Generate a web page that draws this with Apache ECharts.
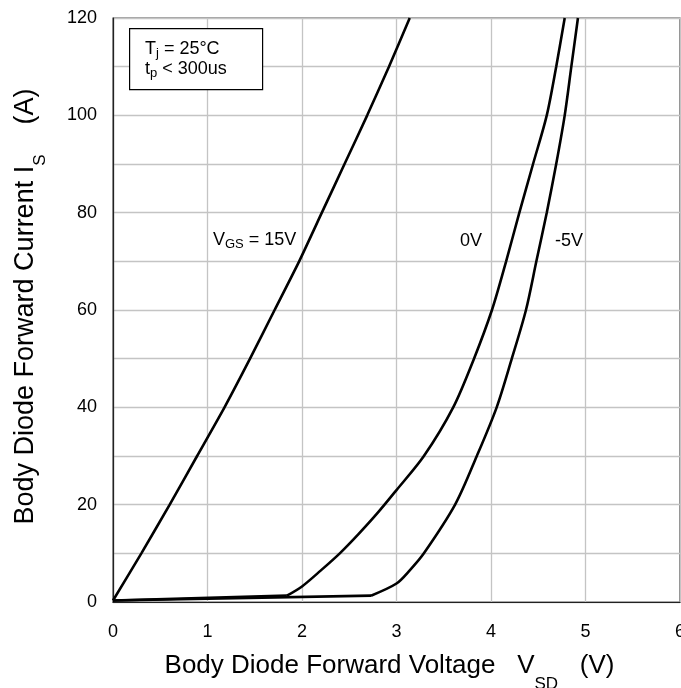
<!DOCTYPE html>
<html>
<head>
<meta charset="utf-8">
<script src="https://cdn.jsdelivr.net/npm/echarts@6/dist/echarts.min.js"></script>
<style>html,body{margin:0;padding:0;background:#fff}#c{width:681px;height:688px}</style>
</head>
<body>
<div id="c"></div>
<script>
// Data
const xTicks = [0, 1, 2, 3, 4, 5, 6];
const yTicks = [0, 20, 40, 60, 80, 100, 120];

const vgs15V = [0, 0.30, 0.60, 0.89, 1.18, 1.45, 1.71, 1.97, 2.21, 2.45, 2.69, 2.92, 3.14];
const vgs15I = [0.3, 10, 20, 30, 40, 50, 60, 70, 80, 90, 100, 110, 120];

const vgs0V = [0, 1.84, 2.0, 2.2, 2.4, 2.6, 2.8, 3.0, 3.29, 3.60, 3.82, 4.01, 4.16, 4.30, 4.445, 4.59, 4.69, 4.78];
const vgs0I = [0.3, 1.3, 3.2, 6.5, 10, 14, 18.3, 23, 30, 40, 50, 60, 70, 80, 90, 100, 110, 120];

const vgsM5V = [0, 2.73, 3.00, 3.14, 3.29, 3.62, 3.85, 4.06, 4.22, 4.37, 4.48, 4.59, 4.69, 4.78, 4.85, 4.92];
const vgsM5I = [0.3, 1.3, 3.8, 6.5, 10, 20, 30, 40, 50, 60, 70, 80, 90, 100, 110, 120];

const pairs = (xs, ys) => xs.map((x, i) => [x, ys[i]]);
const FONT = '"Liberation Sans", Arial, sans-serif';

const chart = echarts.init(document.getElementById('c'), null, {renderer: 'canvas'});
const lineSeries = (name, data, smooth) => ({
  name, type: 'line', data, symbol: 'none', smooth,
  lineStyle: {color: '#000', width: 2.6}, clip: true, z: 5
});
// curves with a kink: straight leakage segment, then a smooth rise
const p0 = pairs(vgs0V, vgs0I), pM5 = pairs(vgsM5V, vgsM5I);

const richName = (size, subLine) => ({
  a: {fontSize: size, fontFamily: FONT, color: '#000', lineHeight: 30, verticalAlign: 'top'},
  s: {fontSize: 17, fontFamily: FONT, color: '#000', lineHeight: subLine, verticalAlign: 'bottom'}
});

chart.setOption({
  animation: false,
  backgroundColor: '#fff',
  textStyle: {fontFamily: FONT},
  grid: {left: 113, right: 1, top: 18, bottom: 86, show: true, borderColor: '#444', borderWidth: 1.2,
    backgroundColor: 'transparent', outerBoundsMode: 'none', containLabel: false},
  xAxis: {
    type: 'value', min: 0, max: 6, interval: 1,
    axisLine: {show: true, lineStyle: {color: '#222', width: 1.2}},
    axisTick: {show: false},
    splitLine: {show: true, lineStyle: {color: '#c4c4c4', width: 1.3}},
    axisLabel: {color: '#000', fontSize: 18, fontFamily: FONT, margin: 21,
      formatter: v => xTicks.includes(v) ? String(v) : ''},
    name: '{a|Body Diode Forward Voltage   V}{s|SD}{a|   (V)}',
    nameLocation: 'middle', nameGap: 51,
    nameTextStyle: {color: '#000', fontFamily: FONT, padding: [0, 14, 0, 0], rich: richName(26, 40)}
  },
  yAxis: {
    type: 'value', min: 0, max: 120, interval: 10,
    axisLine: {show: true, lineStyle: {color: '#222', width: 1.2}},
    axisTick: {show: false},
    splitLine: {show: true, lineStyle: {color: '#c4c4c4', width: 1.3}},
    axisLabel: {color: '#000', fontSize: 18, fontFamily: FONT, margin: 16,
      formatter: v => yTicks.includes(v) ? String(v) : ''},
    name: '{a|Body Diode Forward Current I}{s|S}{a|    (A)}',
    nameLocation: 'middle', nameGap: 64, nameRotate: 90,
    nameTextStyle: {color: '#000', fontFamily: FONT, padding: [0, 0, 0, 7], rich: richName(27, 37)}
  },
  series: [
    lineSeries('VGS = 15V', pairs(vgs15V, vgs15I), 0.2),
    lineSeries('0V leak', p0.slice(0, 2), false),
    lineSeries('0V', p0.slice(1), 0.3),
    lineSeries('-5V leak', pM5.slice(0, 2), false),
    lineSeries('-5V', pM5.slice(1), 0.3)
  ],
  graphic: [
    {type: 'rect', left: 129, top: 28, shape: {width: 133, height: 61}, style: {fill: '#fff', stroke: '#000', lineWidth: 1.2}, z: 10},
    {type: 'text', left: 145, top: 40, z: 11, style: {
      text: '{a|T}{s|j}{a| = 25°C}\n{a|t}{s|p}{a| < 300us}',
      font: '18px ' + FONT, fill: '#000',
      rich: {
        a: {fontSize: 18, fontFamily: FONT, fill: '#000', lineHeight: 20, verticalAlign: 'top'},
        s: {fontSize: 13, fontFamily: FONT, fill: '#000', lineHeight: 8, verticalAlign: 'bottom'}
      }
    }},
    {type: 'text', left: 213, top: 231, z: 11, style: {
      text: '{a|V}{s|GS}{a| = 15V}', fill: '#000',
      rich: {
        a: {fontSize: 18, fontFamily: FONT, fill: '#000', lineHeight: 20, verticalAlign: 'top'},
        s: {fontSize: 13, fontFamily: FONT, fill: '#000', lineHeight: 8, verticalAlign: 'bottom'}
      }
    }},
    {type: 'text', left: 460, top: 232, z: 11, style: {text: '0V', font: '18px ' + FONT, fill: '#000'}},
    {type: 'text', left: 555, top: 232, z: 11, style: {text: '-5V', font: '18px ' + FONT, fill: '#000'}}
  ]
});
</script>
</body>
</html>
